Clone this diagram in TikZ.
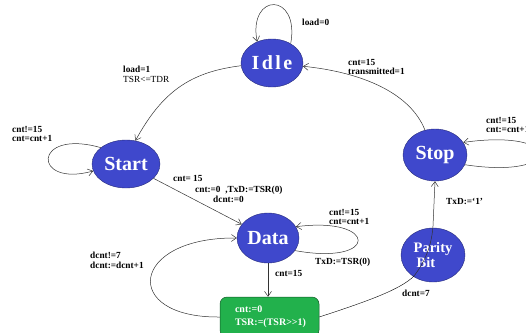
\documentclass[tikz,border=0pt]{standalone}
\usepackage{fontspec}
\setmainfont{Liberation Serif}
\usetikzlibrary{shapes.geometric,arrows.meta}
\definecolor{stblue}{HTML}{3F48CC}
\definecolor{stgreen}{HTML}{22B14C}
\tikzset{
  state/.style={ellipse, fill=stblue, draw=stblue!60!black, line width=0.4pt, inner sep=0pt,
    text=white, font=\fontsize{20}{20}\selectfont\bfseries},
  actbox/.style={rectangle, rounded corners=7pt, fill=stgreen, draw=stgreen!50!black, line width=0.5pt,
    text=white, font=\fontsize{10}{13}\selectfont\bfseries, align=left, inner sep=0pt},
  arr/.style={-{Straight Barb[length=5pt,width=7pt]}, line width=0.5pt, draw=black!80},
  lab/.style={anchor=north west, inner sep=0pt, align=left, font=\fontsize{9.3}{9.5}\selectfont\bfseries},
}
\begin{document}
\begin{tikzpicture}[x=1pt,y=-1pt]
\useasboundingbox (0,0) rectangle (526,332);
\clip (0,0) rectangle (526,332);
% states
\node[state, minimum width=62pt, minimum height=48pt] (idle) at (272,63) {\addfontfeature{LetterSpace=12}Idle};
\node[state, minimum width=68pt, minimum height=48pt] (start) at (126,164) {Start};
\node[state, minimum width=64pt, minimum height=52pt] (stop) at (435,155) {Stop};
\node[state, minimum width=62pt, minimum height=50pt] (data) at (268,238) {Data};
\node[state, minimum width=64pt, minimum height=54pt, font=\fontsize{14.5}{13}\selectfont\bfseries, align=left] (par) at (433,255) {Parity\\\hspace{3pt}Bit};
\node[actbox, minimum width=99pt, minimum height=40pt, text width=83pt] (grn) at (269.5,317) {\hspace*{7pt}cnt:=0\\\hspace*{7pt}TSR:=(TSR>{}>1)};
\coordinate (pin) at (414,276);
% connectors
\draw[arr] (idle.46) .. controls (300,-8) and (248,-8) .. (idle.125);
\draw[arr] (idle.185) .. controls (190,72) and (162,92) .. (start.68);
\draw[arr] (start.147) .. controls (32,128) and (32,188) .. (start.192);
\draw[arr] (start) -- (data);
\draw[arr] (data.-25) .. controls (380,266) and (378,216) .. (data.22);
\draw[arr] (data.south) -- (data.south |- grn.north);
\draw[arr] (grn.west) .. controls (120,318) and (130,237) .. (data.west);
\draw[arr] (stop.112) .. controls (410,92) and (360,72) .. (idle.-6);
\draw[arr] (stop.-18) .. controls (565,180) and (565,128) .. (stop.24);
\draw (grn.east) .. controls (365,302) and (400,290) .. (pin);
\draw[arr] (pin) .. controls (428,258) and (432,240) .. (433,226) -- (stop.south);
% labels
\node[lab] (l1) at (302,19) {load=0};
\node[lab] (l2) at (123,66) {load=1\\\mdseries TSR<=TDR};
\node[lab] (l3) at (12,126) {cnt!=15\\cnt=cnt+1};
\node[lab] (l4) at (348,59) {cnt=15\\transmitted=1};
\node[lab] (l5) at (486,117) {cnt!=15\\cnt:=cnt+1};
\node[lab] (l6) at (173,175) {cnt= 15};
\node[lab] (l7) at (195,186) {cnt:=0 \ ,TxD:=TSR(0)};
\node[lab] (l8) at (213,196) {dcnt:=0};
\node[lab] (l9) at (329,209) {cnt!=15\\cnt=cnt+1};
\node[lab] (l10) at (315,258) {TxD:=TSR(0)};
\node[lab] (l11) at (275,270) {cnt=15};
\node[lab] (l12) at (90,252) {dcnt!=7\\dcnt:=dcnt+1};
\node[lab] (l13) at (446,198) {TxD:=‘1’};
\node[lab] (l14) at (402,290) {dcnt=7};
\end{tikzpicture}
\end{document}
